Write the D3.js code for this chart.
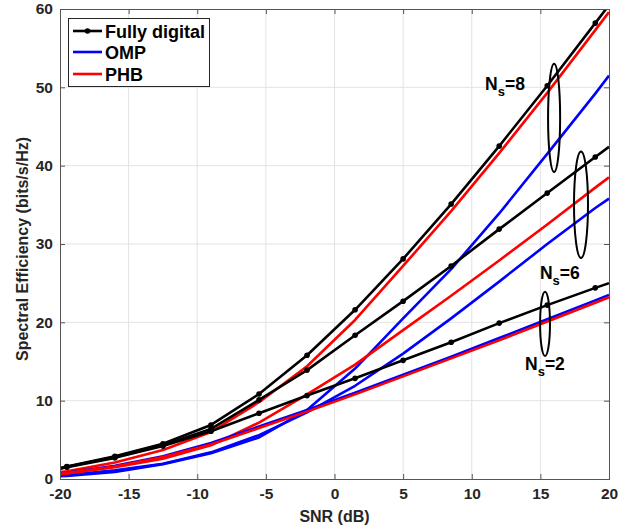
<!DOCTYPE html>
<html>
<head>
<meta charset="utf-8">
<script src="https://cdn.jsdelivr.net/npm/d3@7"></script>
<style>
  html, body { margin: 0; padding: 0; background: #fff; }
  svg { display: block; font-family: "Liberation Sans", Arial, Helvetica, sans-serif; }
</style>
</head>
<body>
<svg id="chart" width="643" height="532"></svg>
<script>
// SNR sample points (dB)
const snr = [-20, -19.5, -16, -12.5, -9, -5.5, -2, 1.5, 5, 8.5, 12, 15.5, 19, 20];

// Spectral efficiency (bits/s/Hz) per precoder and number of streams
const fullyDigital8 = [1.4, 1.6, 2.9, 4.5, 6.9, 10.85, 15.8, 21.6, 28.1, 35.1, 42.5, 50.2, 58.2, 60.5];
const fullyDigital6 = [1.35, 1.55, 2.8, 4.3, 6.4, 10.1, 13.9, 18.35, 22.7, 27.2, 31.9, 36.5, 41.1, 42.4];
const fullyDigital2 = [1.3, 1.5, 2.7, 4.2, 6.1, 8.4, 10.65, 12.85, 15.15, 17.45, 19.9, 22.2, 24.4, 25.0];

const omp8 = [0.35, 0.4, 0.9, 1.9, 3.3, 5.3, 8.8, 14.1, 20.5, 26.8, 33.9, 41.5, 49.2, 51.5];
const omp6 = [0.45, 0.5, 1.1, 1.95, 3.4, 5.6, 8.5, 11.9, 16.0, 20.5, 25.2, 30.0, 34.6, 35.8];
const omp2 = [0.7, 0.8, 1.7, 2.9, 4.6, 6.7, 8.8, 11.0, 13.3, 15.6, 18.0, 20.4, 22.8, 23.5];

const phb8 = [0.9, 1.0, 2.1, 3.7, 6.0, 9.8, 14.4, 20.3, 27.2, 34.2, 41.6, 49.3, 57.3, 59.6];
const phb6 = [0.6, 0.7, 1.5, 2.6, 4.3, 7.2, 10.8, 14.6, 19.0, 23.4, 27.9, 32.5, 37.2, 38.5];
const phb2 = [0.65, 0.75, 1.6, 2.8, 4.4, 6.5, 8.6, 10.8, 13.1, 15.4, 17.7, 20.1, 22.5, 23.2];

const xTicks = [-20, -15, -10, -5, 0, 5, 10, 15, 20];
const yTicks = [0, 10, 20, 30, 40, 50, 60];

const legendLabels = ["Fully digital", "OMP", "PHB"];
const colors = { fd: "#000000", omp: "#0000ff", phb: "#ff0000" };

// Stream-count annotations: ellipse centre / radii in data units, label anchor
const groupLabels = ["8", "6", "2"];
const ellipseCx = [16.0, 17.96, 15.34];
const ellipseCy = [46.1, 35.0, 19.8];
const ellipseRx = [0.44, 0.51, 0.36];
const ellipseRy = [6.9, 6.8, 4.1];
const labelX = [10.97, 14.97, 13.88];
const labelY = [49.7, 25.5, 13.9];

const svg = d3.select("#chart");
const plotLeft = 60, plotRight = 609, plotTop = 9, plotBottom = 479;

const x = d3.scaleLinear().domain([-20, 20]).range([plotLeft, plotRight]);
const y = d3.scaleLinear().domain([0, 60]).range([plotBottom, plotTop]);

// grid
const grid = svg.append("g");
grid.selectAll("line.vx").data(xTicks.slice(1, -1)).join("line")
  .attr("x1", d => x(d)).attr("x2", d => x(d))
  .attr("y1", plotTop).attr("y2", plotBottom)
  .attr("stroke", "#e3e3e3").attr("stroke-width", 1);
grid.selectAll("line.hy").data(yTicks.slice(1, -1)).join("line")
  .attr("x1", plotLeft).attr("x2", plotRight)
  .attr("y1", d => y(d)).attr("y2", d => y(d))
  .attr("stroke", "#e3e3e3").attr("stroke-width", 1);

// clip to plot box
svg.append("clipPath").attr("id", "plotClip")
  .append("rect").attr("x", plotLeft).attr("y", plotTop)
  .attr("width", plotRight - plotLeft).attr("height", plotBottom - plotTop);

const plot = svg.append("g").attr("clip-path", "url(#plotClip)");
const line = d3.line().x((d, i) => x(snr[i])).y(d => y(d));

const series = [
  { v: fullyDigital8, c: colors.fd, m: true },
  { v: omp8, c: colors.omp },
  { v: phb8, c: colors.phb },
  { v: fullyDigital6, c: colors.fd, m: true },
  { v: omp6, c: colors.omp },
  { v: phb6, c: colors.phb },
  { v: fullyDigital2, c: colors.fd, m: true },
  { v: omp2, c: colors.omp },
  { v: phb2, c: colors.phb }
];

series.forEach(s => {
  plot.append("path").datum(s.v)
    .attr("d", line)
    .attr("fill", "none")
    .attr("stroke", s.c)
    .attr("stroke-width", 2.6)
    .attr("stroke-linejoin", "round");
  if (s.m) {
    plot.selectAll(null)
      .data(s.v.map((v, i) => ({ v, i })).filter(d => d.i > 0 && d.i < snr.length - 1))
      .join("circle")
      .attr("cx", d => x(snr[d.i]))
      .attr("cy", d => y(d.v))
      .attr("r", 2.8)
      .attr("fill", s.c);
  }
});

// axes (inward ticks on all four sides, plain hyphen for negatives)
const axisColor = "#262626";
const fmt = d => String(d);
svg.append("g").attr("transform", `translate(0,${plotBottom})`)
  .call(d3.axisBottom(x).tickValues(xTicks).tickSize(-5).tickPadding(9).tickFormat(fmt));
svg.append("g").attr("transform", `translate(${plotLeft},0)`)
  .call(d3.axisLeft(y).tickValues(yTicks).tickSize(-5).tickPadding(7).tickFormat(fmt));
svg.append("g").attr("transform", `translate(0,${plotTop})`)
  .call(d3.axisTop(x).tickValues(xTicks).tickSize(-5).tickFormat(""));
svg.append("g").attr("transform", `translate(${plotRight},0)`)
  .call(d3.axisRight(y).tickValues(yTicks).tickSize(-5).tickFormat(""));

svg.selectAll(".domain").attr("stroke", "#555").attr("stroke-width", 1);
svg.selectAll(".tick line").attr("stroke", "#555");
svg.selectAll(".tick text")
  .attr("fill", axisColor)
  .style("font-size", "15.5px")
  .style("font-weight", "bold")
  .style("font-family", "'Liberation Sans', Arial, sans-serif");

// axis titles
svg.append("text")
  .attr("x", x(0)).attr("y", 522)
  .attr("text-anchor", "middle")
  .attr("fill", axisColor)
  .style("font-size", "16px").style("font-weight", "bold")
  .text("SNR (dB)");
svg.append("text")
  .attr("transform", `translate(28,249) rotate(-90)`)
  .attr("text-anchor", "middle")
  .attr("fill", axisColor)
  .style("font-size", "16px").style("font-weight", "bold")
  .text("Spectral Efficiency (bits/s/Hz)");

// ellipses and N_s labels
const ann = svg.append("g");
groupLabels.forEach((g, i) => {
  ann.append("ellipse")
    .attr("cx", x(ellipseCx[i])).attr("cy", y(ellipseCy[i]))
    .attr("rx", x(ellipseCx[i] + ellipseRx[i]) - x(ellipseCx[i]))
    .attr("ry", y(0) - y(ellipseRy[i]))
    .attr("fill", "none").attr("stroke", "#000").attr("stroke-width", 2);
  const t = ann.append("text")
    .attr("x", x(labelX[i])).attr("y", y(labelY[i]))
    .attr("fill", "#000")
    .style("font-size", "17.5px").style("font-weight", "bold");
  t.append("tspan").text("N");
  t.append("tspan").attr("dy", 6).style("font-size", "13px").text("s");
  t.append("tspan").attr("dy", -6).text("=" + g);
});

// legend
const lg = svg.append("g");
lg.append("rect")
  .attr("x", 68.5).attr("y", 18.5).attr("width", 141).attr("height", 68)
  .attr("fill", "#fff").attr("stroke", "#262626").attr("stroke-width", 1);
const legendColors = [colors.fd, colors.omp, colors.phb];
const rowY = [31, 52, 74];
legendLabels.forEach((lab, i) => {
  lg.append("line")
    .attr("x1", 73).attr("x2", 102).attr("y1", rowY[i]).attr("y2", rowY[i])
    .attr("stroke", legendColors[i]).attr("stroke-width", 2.6);
  if (i === 0) {
    lg.append("circle").attr("cx", 87.5).attr("cy", rowY[i]).attr("r", 2.8).attr("fill", "#000");
  }
  lg.append("text")
    .attr("x", 105).attr("y", rowY[i] + 6.5)
    .attr("fill", "#000")
    .style("font-size", "18px").style("font-weight", "bold")
    .text(lab);
});
</script>
</body>
</html>
